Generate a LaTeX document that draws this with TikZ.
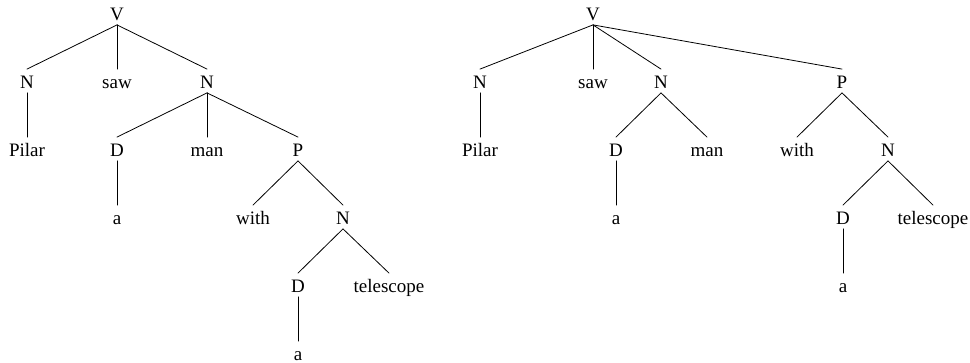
\documentclass[tikz,border=0pt]{standalone}
\usepackage{fontspec}
\setmainfont{Liberation Serif}
\begin{document}
\begin{tikzpicture}[x=1pt, y=-1pt, line width=0.8pt, line cap=round,
    lbl/.style={anchor=base, inner xsep=0pt, inner ysep=3.5pt, text height=16pt, text depth=0pt, font=\fontsize{19}{22}\selectfont}]
			\useasboundingbox (0,0) rectangle (970,363);
			
			% Cây bên trái
			\node[lbl] (lV) at (117, 21) {V};
			\node[lbl] (lN1) at (27, 89) {N};
			\node[lbl] (lsaw) at (117, 89) {saw};
			\node[lbl] (lN2) at (207, 89) {N};
			\node[lbl] (lpilar) at (27, 157) {Pilar};
			\node[lbl] (lD1) at (117, 157) {D};
			\node[lbl] (lman) at (207, 157) {man};
			\node[lbl] (lP) at (298, 157) {P};
			\node[lbl] (la1) at (117, 225) {a};
			\node[lbl] (lwith) at (253, 225) {with};
			\node[lbl] (lN3) at (343, 225) {N};
			\node[lbl] (lD2) at (298, 293) {D};
			\node[lbl] (ltel) at (389, 293) {telescope};
			\node[lbl] (la2) at (298, 361) {a};
			
			% Cạnh cây bên trái
			\draw (lV.south) -- (lN1.north);
			\draw (lV.south) -- (lsaw.north);
			\draw (lV.south) -- (lN2.north);
			\draw (lN1.south) -- (lpilar.north);
			\draw (lN2.south) -- (lD1.north);
			\draw (lN2.south) -- (lman.north);
			\draw (lN2.south) -- (lP.north);
			\draw (lD1.south) -- (la1.north);
			\draw (lP.south) -- (lwith.north);
			\draw (lP.south) -- (lN3.north);
			\draw (lN3.south) -- (lD2.north);
			\draw (lN3.south) -- (ltel.north);
			\draw (lD2.south) -- (la2.north);
			
			% Cây bên phải
			\node[lbl] (rV) at (593, 21) {V};
			\node[lbl] (rN1) at (480, 89) {N};
			\node[lbl] (rsaw) at (593, 89) {saw};
			\node[lbl] (rN2) at (661, 89) {N};
			\node[lbl] (rP) at (842, 89) {P};
			\node[lbl] (rpilar) at (480, 157) {Pilar};
			\node[lbl] (rD1) at (616, 157) {D};
			\node[lbl] (rman) at (707, 157) {man};
			\node[lbl] (rwith) at (797, 157) {with};
			\node[lbl] (rN3) at (888, 157) {N};
			\node[lbl] (ra1) at (616, 225) {a};
			\node[lbl] (rD2) at (843, 225) {D};
			\node[lbl] (rtel) at (933, 225) {telescope};
			\node[lbl] (ra2) at (843, 293) {a};
			
			% Cạnh cây bên phải
			\draw (rV.south) -- (rN1.north);
			\draw (rV.south) -- (rsaw.north);
			\draw (rV.south) -- (rN2.north);
			\draw (rV.south) -- (rP.north);
			\draw (rN1.south) -- (rpilar.north);
			\draw (rN2.south) -- (rD1.north);
			\draw (rN2.south) -- (rman.north);
			\draw (rD1.south) -- (ra1.north);
			\draw (rP.south) -- (rwith.north);
			\draw (rP.south) -- (rN3.north);
			\draw (rN3.south) -- (rD2.north);
			\draw (rN3.south) -- (rtel.north);
			\draw (rD2.south) -- (ra2.north);
		\end{tikzpicture}
\end{document}
